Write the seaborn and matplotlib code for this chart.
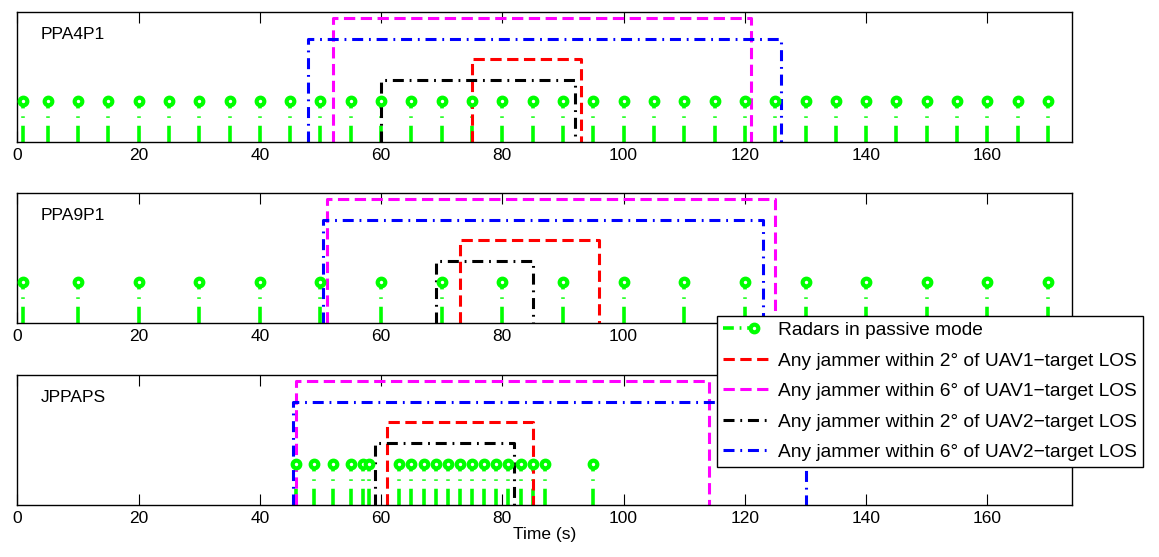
import matplotlib
matplotlib.use("Agg")
import matplotlib.pyplot as plt
import seaborn as sns
import pandas as pd
from matplotlib.lines import Line2D
from matplotlib.legend_handler import HandlerBase

# ---- data -------------------------------------------------------------
scenarios = ["PPA4P1", "PPA9P1", "JPPAPS"]

radar_t_ppa4p1 = [1, 5, 10, 15, 20, 25, 30, 35, 40, 45, 50, 55, 60, 65, 70, 75, 80,
                  85, 90, 95, 100, 105, 110, 115, 120, 125, 130, 135, 140, 145, 150,
                  155, 160, 165, 170]
radar_t_ppa9p1 = [1, 10, 20, 30, 40, 50, 60, 70, 80, 90, 100, 110, 120, 130, 140,
                  150, 160, 170]
radar_t_jppaps = [46, 49, 52, 55, 57, 58, 63, 65, 67, 69, 71, 73, 75, 77, 79, 81,
                  83, 85, 87, 95]
radar_level = 0.33

# jammer windows (start, end) per scenario
uav1_2deg_on = [75, 73, 61]
uav1_2deg_off = [93, 96, 85]
uav1_6deg_on = [52, 51, 46]
uav1_6deg_off = [121, 125, 114]
uav2_2deg_on = [60, 69, 59]
uav2_2deg_off = [92, 85, 82]
uav2_6deg_on = [48, 50.5, 45.5]
uav2_6deg_off = [126, 123, 130]

level_uav1_2deg = 0.67
level_uav1_6deg = 1.0
level_uav2_2deg = 0.5
level_uav2_6deg = 0.83

x_ticks = [0, 20, 40, 60, 80, 100, 120, 140, 160]

legend_labels = [
    "Radars in passive mode",
    "Any jammer within 2\u00b0 of UAV1\u2212target LOS",
    "Any jammer within 6\u00b0 of UAV1\u2212target LOS",
    "Any jammer within 2\u00b0 of UAV2\u2212target LOS",
    "Any jammer within 6\u00b0 of UAV2\u2212target LOS",
]

# ---- style ------------------------------------------------------------
sns.set_style("white")
plt.rcParams["font.family"] = ["Liberation Sans", "DejaVu Sans"]
plt.rcParams["text.color"] = "black"
plt.rcParams["axes.labelcolor"] = "black"
plt.rcParams["xtick.color"] = "black"

GREEN = "#00ff00"
DASH = (0, (3.7, 1.8))
DASHDOT = (0, (3.6, 1.9, 0.6, 1.9))
LW = 2.2

jammers = [
    (uav1_2deg_on, uav1_2deg_off, level_uav1_2deg, "#ff0000", DASH),
    (uav1_6deg_on, uav1_6deg_off, level_uav1_6deg, "#ff00ff", DASH),
    (uav2_2deg_on, uav2_2deg_off, level_uav2_2deg, "#000000", DASHDOT),
    (uav2_6deg_on, uav2_6deg_off, level_uav2_6deg, "#0000ff", DASHDOT),
]
radar_times = [radar_t_ppa4p1, radar_t_ppa9p1, radar_t_jppaps]

fig = plt.figure(figsize=(11.59, 5.57), dpi=100)
left, width = 17.3 / 1159, (1072.3 - 17.3) / 1159
tops = [12, 193, 375]
h_px = 130

for i, name in enumerate(scenarios):
    bottom = 1 - (tops[i] + h_px) / 557
    ax = fig.add_axes([left, bottom, width, h_px / 557])

    # radar stems
    t = radar_times[i]
    m, s, b = ax.stem(t, [radar_level] * len(t), basefmt=" ")
    s.set_color(GREEN)
    s.set_linewidth(2.6)
    s.set_linestyle((0, (4.5, 2.2, 0.4, 2.2)))
    m.set_marker("o")
    m.set_markersize(5.5)
    m.set_markeredgewidth(3.0)
    m.set_markeredgecolor(GREEN)
    m.set_markerfacecolor("white")
    m.set_zorder(4)

    # jammer windows as pulses
    for on, off, lev, col, ls in jammers:
        df = pd.DataFrame({"t": [on[i], on[i], off[i], off[i]],
                           "v": [0, lev, lev, 0]})
        sns.lineplot(data=df, x="t", y="v", ax=ax, sort=False, estimator=None,
                     color=col, linewidth=LW, linestyle=ls)

    ax.set_xlim(0, 174)
    ax.set_ylim(0, 1.05)
    ax.set_xticks(x_ticks)
    ax.set_xticklabels([str(v) for v in x_ticks], fontsize=12.5)
    ax.set_yticks([])
    ax.set_ylabel("")
    ax.set_xlabel("")
    ax.tick_params(axis="x", direction="in", top=True, bottom=True, length=8,
                   width=0.8, pad=4, colors="black")
    for sp in ax.spines.values():
        sp.set_visible(True)
        sp.set_color("black")
        sp.set_linewidth(1.0)
    ax.text(0.022, 0.83, name, transform=ax.transAxes, fontsize=12.5, va="center",
            ha="left", color="black")
    if i == 2:
        ax.set_xlabel("Time (s)", fontsize=12.5, labelpad=1)


class RadarHandler(HandlerBase):
    def create_artists(self, legend, orig, xdescent, ydescent, width, height,
                       fontsize, trans):
        y = height / 2 - ydescent
        x0, x1 = -xdescent, width - xdescent - 12
        ln = Line2D([x0, x1], [y, y], color=GREEN, lw=2.6,
                    linestyle=(0, (3.0, 1.6, 0.5, 1.6)))
        mk = Line2D([x1], [y], marker="o", markersize=5.5, markeredgewidth=3.0,
                    markeredgecolor=GREEN, markerfacecolor="white", lw=0)
        ln.set_transform(trans)
        mk.set_transform(trans)
        return [ln, mk]


radar_handle = Line2D([], [], color=GREEN)
handles = [radar_handle] + [
    Line2D([], [], color=col, lw=LW, linestyle=ls) for _, _, _, col, ls in jammers
]
leg = fig.legend(handles, legend_labels, loc="upper left",
                 bbox_to_anchor=(717 / 1159, 1 - 316 / 557), fontsize=13.8,
                 frameon=True, fancybox=False, edgecolor="black", framealpha=1,
                 handlelength=2.5, handletextpad=0.4, labelspacing=0.68,
                 borderpad=0.3, borderaxespad=0,
                 handler_map={radar_handle: RadarHandler()})
leg.get_frame().set_linewidth(1.0)
for txt in leg.get_texts():
    txt.set_color("black")

fig.savefig("out.png", dpi=100)
